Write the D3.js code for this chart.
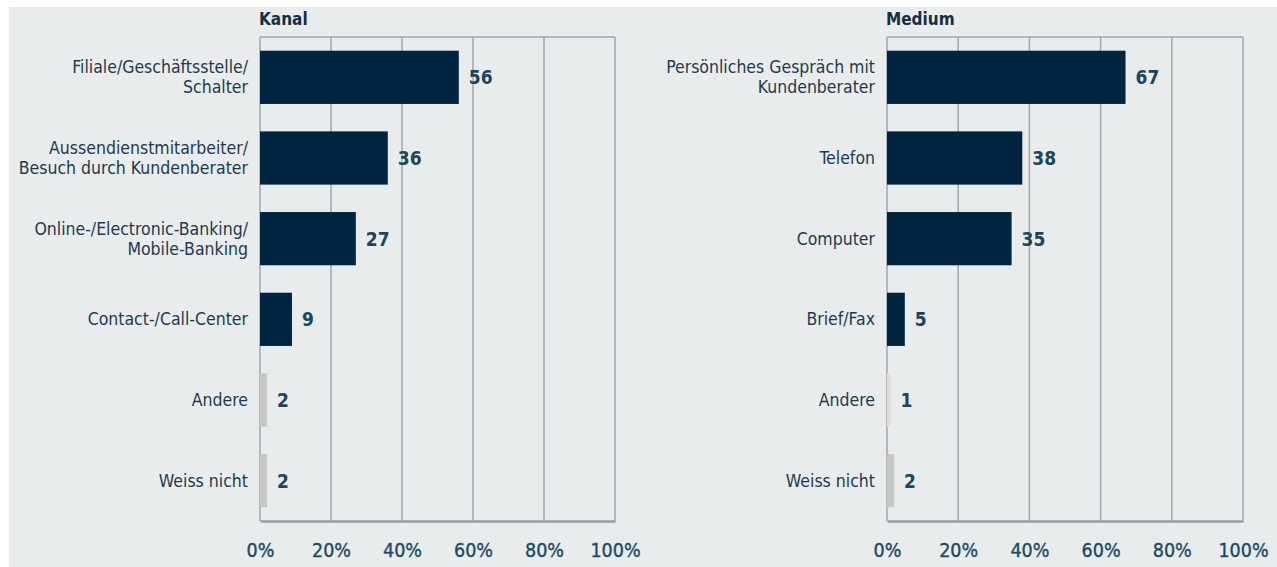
<!DOCTYPE html>
<meta charset="utf-8" />
<script src="https://d3js.org/d3.v7.min.js"></script>
<body style="margin:0;background:#fff">
  <div id="chart"></div>
  <script>
    // data
    const kanalCats = [
      "Filiale/Geschäftsstelle/|Schalter",
      "Aussendienstmitarbeiter/|Besuch durch Kundenberater",
      "Online-/Electronic-Banking/|Mobile-Banking",
      "Contact-/Call-Center",
      "Andere",
      "Weiss nicht"
    ];
    const kanalValues = [56, 36, 27, 9, 2, 2];

    const mediumCats = [
      "Persönliches Gespräch mit|Kundenberater",
      "Telefon",
      "Computer",
      "Brief/Fax",
      "Andere",
      "Weiss nicht"
    ];
    const mediumValues = [67, 38, 35, 5, 1, 2];

    const tickValues = [0, 20, 40, 60, 80, 100];

    const W = 1277, H = 567;
    const svg = d3.select("#chart").append("svg")
      .attr("width", W).attr("height", H)
      .style("display", "block");

    svg.append("rect")
      .attr("x", 9).attr("y", 7)
      .attr("width", W - 9).attr("height", H - 7)
      .attr("fill", "#e8ecec");

    const fontFam = "'DejaVu Sans', Verdana, sans-serif";

    function drawPanel(title, cats, values, left, right, labelX) {
      const top = 37, bottom = 521;
      const x = d3.scaleLinear().domain([0, 100]).range([left, right]);
      const y = d3.scaleBand().domain(cats).range([top, bottom]).paddingInner(0.34).paddingOuter(0.17);

      const g = svg.append("g");

      // title
      g.append("text")
        .attr("x", left - 1).attr("y", 25)
        .attr("font-family", fontFam)
        .attr("font-weight", "bold")
        .attr("font-size", 17)
        .attr("fill", "#142f45")
        .style("font-stretch", "condensed")
        .text(title);

      // grid lines
      g.selectAll(".grid").data(tickValues).enter().append("line")
        .attr("x1", d => x(d)).attr("x2", d => x(d))
        .attr("y1", top).attr("y2", bottom)
        .attr("stroke", "#a4a7aa").attr("stroke-width", 1.5);
      g.append("line")
        .attr("x1", left).attr("x2", right)
        .attr("y1", top).attr("y2", top)
        .attr("stroke", "#a4a7aa").attr("stroke-width", 1.5);

      // x axis
      const axis = g.append("g")
        .attr("transform", "translate(0," + bottom + ")")
        .call(d3.axisBottom(x).tickValues(tickValues).tickSize(0).tickPadding(22).tickFormat(d => d + "%"));
      axis.select(".domain").attr("stroke", "#9a9da0").attr("stroke-width", 2.5);
      axis.selectAll("text")
        .attr("font-family", fontFam)
        .attr("font-size", 19.5)
        .attr("fill", "#1b4a66")
        .attr("stroke", "#1b4a66")
        .attr("stroke-width", 0.35)
        .style("font-stretch", "condensed");

      // bars
      g.selectAll(".bar").data(cats).enter().append("rect")
        .attr("x", left)
        .attr("y", d => y(d))
        .attr("width", (d, i) => x(values[i]) - left)
        .attr("height", y.bandwidth())
        .attr("fill", (d, i) => {
          if (d === "Andere" && values[i] < 2) return "#dcdcdc";
          if (d === "Andere" || d === "Weiss nicht") return "#c6c6c6";
          return "#012540";
        });

      // value labels
      g.selectAll(".val").data(cats).enter().append("text")
        .attr("x", (d, i) => x(values[i]) + 10)
        .attr("y", d => y(d) + y.bandwidth() / 2 + 7)
        .attr("font-family", fontFam)
        .attr("font-weight", "bold")
        .attr("font-size", 19)
        .attr("fill", "#1c4660")
        .style("font-stretch", "condensed")
        .text((d, i) => values[i]);

      // category labels
      cats.forEach(c => {
        const lines = c.split("|");
        const cy = y(c) + y.bandwidth() / 2;
        const t = g.append("text")
          .attr("text-anchor", "end")
          .attr("font-family", fontFam)
          .attr("font-size", 17.5)
          .attr("fill", "#1e3a50")
          .style("font-stretch", "condensed");
        lines.forEach((l, i) => {
          t.append("tspan")
            .attr("x", labelX)
            .attr("y", cy + 6 + (i - (lines.length - 1) / 2) * 20)
            .text(l);
        });
      });
    }

    drawPanel("Kanal", kanalCats, kanalValues, 260, 615, 248);
    drawPanel("Medium", mediumCats, mediumValues, 887, 1243, 875);
  </script>
</body>
